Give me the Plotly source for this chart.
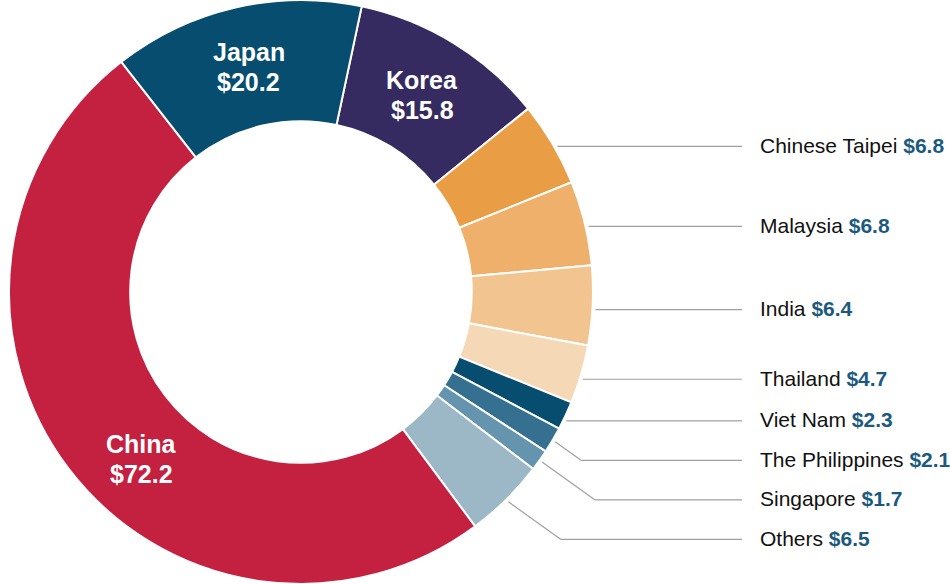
import math
import plotly.graph_objects as go

# Slices in clockwise order, starting just right of 12 o'clock
countries = ["Korea", "Chinese Taipei", "Malaysia", "India", "Thailand", "Viet Nam",
             "The Philippines", "Singapore", "Others", "China", "Japan"]
values = [15.8, 6.8, 6.8, 6.4, 4.7, 2.3, 2.1, 1.7, 6.5, 72.2, 20.2]
colors = ["#352B60", "#E99D44", "#EFB06C", "#F2C490", "#F5D8B5", "#064D70",
          "#357090", "#6595AE", "#9CB8C7", "#C42040", "#064D70"]
inside_labels = ["Korea", "China", "Japan"]

W, H = 950, 584
CX, CY = 301, 292          # donut centre in pixels
R_OUT = 292                # outer radius in pixels
HOLE = 0.585
R_IN = R_OUT * HOLE
ROTATION = 12
VALUE_COLOR = "#1B5A7E"
LINE_COLOR = "#A0A0A0"

fig = go.Figure(go.Pie(
    labels=countries,
    values=values,
    sort=False,
    direction="clockwise",
    rotation=ROTATION,
    hole=HOLE,
    marker=dict(colors=colors, line=dict(color="white", width=2)),
    textinfo="none",
    hoverinfo="label+value",
    showlegend=False,
    domain=dict(x=[(CX - R_OUT) / W, (CX + R_OUT) / W], y=[0, 1]),
))


def to_px(angle_deg, r):
    a = math.radians(angle_deg)
    return CX + r * math.sin(a), CY - r * math.cos(a)


def to_paper(x, y):
    return x / W, 1 - y / H


total = sum(values)
mid_angles = {}
cum = 0.0
for name, v in zip(countries, values):
    a0 = ROTATION + cum / total * 360
    cum += v
    a1 = ROTATION + cum / total * 360
    mid_angles[name] = (a0 + a1) / 2

annotations = []
shapes = []

# White labels inside the three largest slices
nudge = {"China": -9.0}
for name in inside_labels:
    v = values[countries.index(name)]
    ang = mid_angles[name] + nudge.get(name, 0.0)
    x, y = to_px(ang, (R_OUT + R_IN) / 2)
    for text, dy in ((f"<b>{name}</b>", -15), (f"<b>${v:.1f}</b>", 15)):
        px_, py_ = to_paper(x, y + dy)
        annotations.append(dict(
            x=px_, y=py_, xref="paper", yref="paper", text=text, showarrow=False,
            xanchor="center", yanchor="middle",
            font=dict(family="Liberation Sans, Arial, sans-serif", size=25, color="white"),
        ))

# Right-hand label column with leader lines
LINE_END_X = 742
LABEL_X = 758
GAP = 3
LINE_DY = 4
MIN_STEP = 39.5
prev_y = -1e9
for name, v in zip(countries, values):
    if name in inside_labels:
        continue
    sx, sy = to_px(mid_angles[name], R_OUT + GAP)
    ly = max(sy + LINE_DY, prev_y + MIN_STEP)
    prev_y = ly
    if ly - sy > 8:
        ex = sx + 1.4 * (ly - sy)
        pts = [(sx, sy), (ex, ly), (LINE_END_X, ly)]
    else:
        hx = CX + math.sqrt(max((R_OUT + GAP) ** 2 - (ly - CY) ** 2, 0))
        pts = [(hx, ly), (LINE_END_X, ly)]
    for (x0, y0), (x1, y1) in zip(pts[:-1], pts[1:]):
        p0 = to_paper(x0, y0)
        p1 = to_paper(x1, y1)
        shapes.append(dict(type="line", xref="paper", yref="paper",
                           x0=p0[0], y0=p0[1], x1=p1[0], y1=p1[1],
                           line=dict(color=LINE_COLOR, width=1.2)))
    lx, lyp = to_paper(LABEL_X, ly - 1)
    annotations.append(dict(
        x=lx, y=lyp, xref="paper", yref="paper", showarrow=False,
        xanchor="left", yanchor="middle",
        text=f"{name} <b><span style='color:{VALUE_COLOR}'>${v:.1f}</span></b>",
        font=dict(family="Liberation Sans, Arial, sans-serif", size=21, color="#111111"),
    ))

fig.update_layout(
    width=W, height=H,
    margin=dict(l=0, r=0, t=0, b=0),
    paper_bgcolor="white",
    plot_bgcolor="white",
    annotations=annotations,
    shapes=shapes,
)

fig.write_html("out.html")
